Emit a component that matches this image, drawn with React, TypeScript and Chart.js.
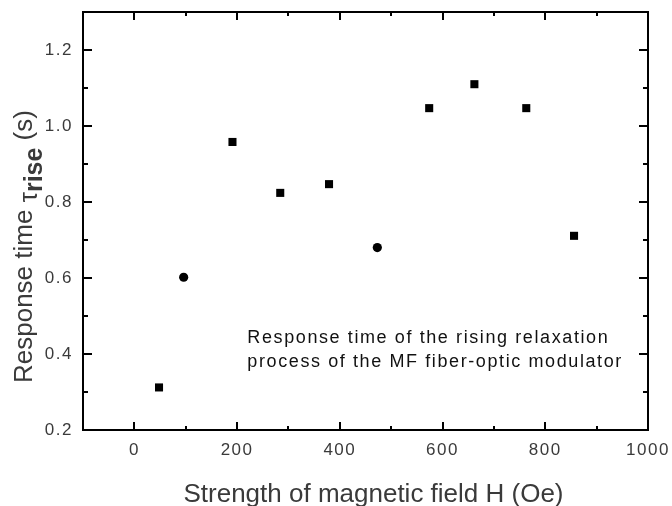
import React, { useEffect, useRef } from 'react';
import { Chart, registerables } from 'chart.js';
Chart.register(...registerables);

// ---- data ----
const squareX = [48, 191, 284, 379, 574, 662, 763, 856];
const squareY = [0.312, 0.958, 0.824, 0.847, 1.047, 1.11, 1.047, 0.711];
const circleX = [96, 473];
const circleY = [0.602, 0.68];

const xMajorTicks = [0, 200, 400, 600, 800, 1000];
const xMinorTicks = [100, 300, 500, 700, 900];
const yMajorTicks = [0.2, 0.4, 0.6, 0.8, 1.0, 1.2];
const yMinorTicks = [0.3, 0.5, 0.7, 0.9, 1.1];

const xTitle = 'Strength of magnetic field H (Oe)';
const yTitleMain = 'Response time ';
const yTitleSymbol = 'τ';
const yTitleSub = 'rise';
const yTitleUnit = ' (s)';
const noteLines = [
  'Response time of the rising relaxation',
  'process of the MF fiber-optic modulator',
];

const FONT = '"Liberation Sans", Arial, "DejaVu Sans", sans-serif';

const spacingPlugin = {
  id: 'spacing',
  beforeDraw(chart: any) {
    (chart.ctx as any).letterSpacing = '1.5px';
  },
};

const framePlugin = {
  id: 'frame',
  afterDraw(chart: any) {
    const { ctx, chartArea: a, scales } = chart;
    const xs = scales.x;
    const ys = scales.y;
    ctx.save();
    (ctx as any).letterSpacing = '0px';
    ctx.strokeStyle = '#000';
    ctx.lineWidth = 2;
    ctx.strokeRect(a.left, a.top, a.right - a.left, a.bottom - a.top);

    const majX = 8, minX = 4, majY = 9, minY = 5;
    ctx.beginPath();
    const xt = (v: number, len: number) => {
      const px = Math.round(xs.getPixelForValue(v));
      ctx.moveTo(px, a.bottom); ctx.lineTo(px, a.bottom - len);
      ctx.moveTo(px, a.top); ctx.lineTo(px, a.top + len);
    };
    const yt = (v: number, len: number) => {
      const py = Math.round(ys.getPixelForValue(v));
      ctx.moveTo(a.left, py); ctx.lineTo(a.left + len, py);
      ctx.moveTo(a.right, py); ctx.lineTo(a.right - len, py);
    };
    xMajorTicks.forEach((v) => xt(v, majX));
    xMinorTicks.forEach((v) => xt(v, minX));
    yMajorTicks.forEach((v) => yt(v, majY));
    yMinorTicks.forEach((v) => yt(v, minY));
    ctx.stroke();

    // x title
    ctx.fillStyle = '#3a3a3a';
    ctx.font = `26px ${FONT}`;
    ctx.textAlign = 'center';
    ctx.textBaseline = 'alphabetic';
    ctx.fillText(xTitle, (a.left + a.right) / 2 + 8, 502);

    // y title (rotated)
    ctx.save();
    ctx.translate(32, 383);
    ctx.rotate(-Math.PI / 2);
    ctx.textAlign = 'left';
    let cx = 0;
    ctx.font = `26px ${FONT}`;
    ctx.fillText(yTitleMain, cx, 0);
    cx += ctx.measureText(yTitleMain).width;
    ctx.font = `26px ${FONT}`;
    ctx.fillText(yTitleSymbol, cx, 5);
    cx += ctx.measureText(yTitleSymbol).width;
    ctx.font = `bold 25px ${FONT}`;
    ctx.fillText(yTitleSub, cx, 10);
    cx += ctx.measureText(yTitleSub).width;
    ctx.font = `26px ${FONT}`;
    ctx.fillText(yTitleUnit, cx, 0);
    ctx.restore();

    // annotation
    (ctx as any).letterSpacing = '1.6px';
    ctx.fillStyle = '#111';
    ctx.font = `18px ${FONT}`;
    ctx.textAlign = 'left';
    const nx = xs.getPixelForValue(220);
    const ny = ys.getPixelForValue(0.428);
    noteLines.forEach((t, i) => ctx.fillText(t, nx, ny + i * 24));
    ctx.restore();
  },
};

const zeroPad = (s: any) => {
  s.paddingTop = 0;
  s.paddingBottom = 0;
  s.paddingLeft = 0;
  s.paddingRight = 0;
};

export default function App() {
  const ref = useRef<HTMLCanvasElement | null>(null);
  useEffect(() => {
    if (!ref.current) return;
    const chart = new Chart(ref.current, {
      type: 'scatter',
      data: {
        datasets: [
          {
            label: 'square',
            data: squareX.map((x, i) => ({ x, y: squareY[i] })),
            pointStyle: 'rect',
            pointRadius: 5.7,
            pointHoverRadius: 5.7,
            backgroundColor: '#000',
            borderColor: '#000',
            borderWidth: 0,
          },
          {
            label: 'circle',
            data: circleX.map((x, i) => ({ x, y: circleY[i] })),
            pointStyle: 'circle',
            pointRadius: 4.6,
            pointHoverRadius: 4.6,
            backgroundColor: '#000',
            borderColor: '#000',
            borderWidth: 0,
          },
        ],
      },
      options: {
        animation: false,
        responsive: false,
        devicePixelRatio: 1,
        layout: { padding: { top: 12, right: 24, left: 0, bottom: 0 } },
        plugins: { legend: { display: false }, tooltip: { enabled: false } },
        scales: {
          x: {
            type: 'linear',
            min: -100,
            max: 1000,
            grid: { display: false, drawTicks: false },
            border: { display: false },
            afterFit: (s: any) => { s.height = 76; zeroPad(s); },
            afterBuildTicks: (s: any) => { s.ticks = xMajorTicks.map((v) => ({ value: v })); },
            ticks: {
              padding: 10,
              color: '#3a3a3a',
              font: { family: FONT, size: 17 },
              callback: (v: any) => String(v),
            },
          },
          y: {
            type: 'linear',
            min: 0.2,
            max: 1.3,
            grid: { display: false, drawTicks: false },
            border: { display: false },
            afterFit: (s: any) => { s.width = 83; zeroPad(s); },
            afterBuildTicks: (s: any) => { s.ticks = yMajorTicks.map((v) => ({ value: v })); },
            ticks: {
              padding: 10,
              color: '#3a3a3a',
              font: { family: FONT, size: 17 },
              callback: (v: any) => Number(v).toFixed(1),
            },
          },
        },
      },
      plugins: [spacingPlugin, framePlugin],
    });
    return () => chart.destroy();
  }, []);
  return (
    <div style={{ position: 'fixed', left: 0, top: 0, width: 672, height: 506, background: '#fff' }}>
      <canvas ref={ref} width={672} height={506} />
    </div>
  );
}
